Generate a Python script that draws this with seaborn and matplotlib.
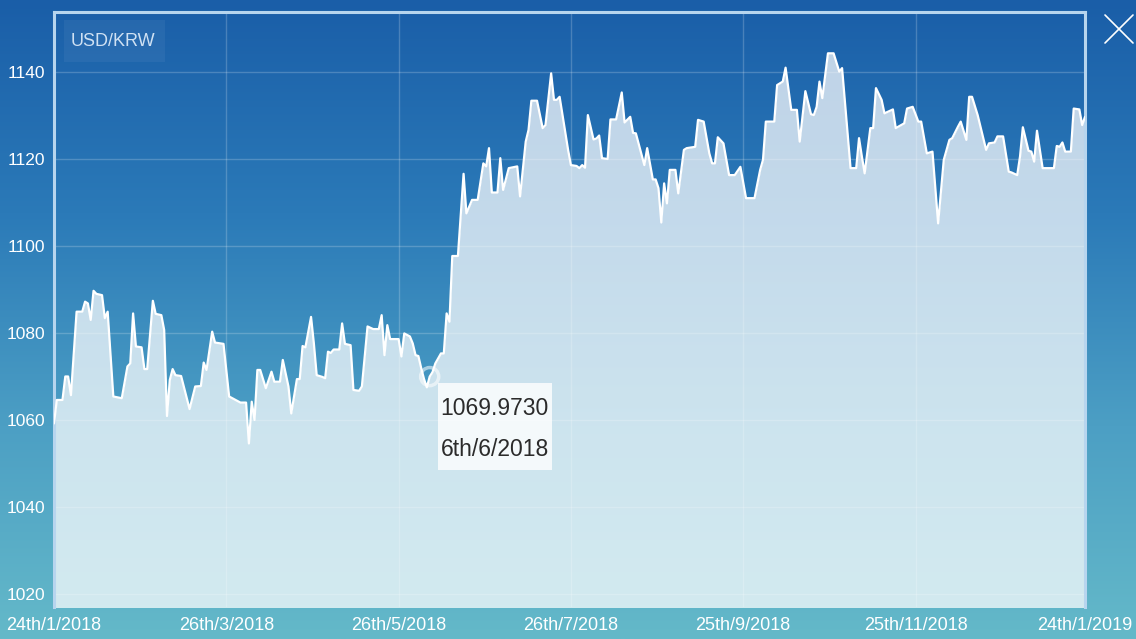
import numpy as np
import pandas as pd
import matplotlib.pyplot as plt
import matplotlib.dates as mdates
from matplotlib.colors import LinearSegmentedColormap
from matplotlib.patches import Rectangle
from matplotlib.lines import Line2D
from matplotlib.transforms import IdentityTransform
import seaborn as sns

# %% Data
start_date = "2018-01-24"
end_date = "2019-01-24"
pair_name = "USD/KRW"

day_offset = [
    0, 1, 3, 4, 5, 6, 8, 10, 11, 12, 13, 14, 15, 17, 18, 19, 21, 24, 26, 27,
    28, 29, 31, 32, 33, 35, 36, 38, 39, 40, 41, 42, 43, 45, 48, 50, 52, 53, 54, 56,
    57, 60, 62, 66, 68, 69, 70, 71, 72, 73, 75, 77, 78, 80, 81, 83, 84, 86, 87, 88,
    89, 91, 92, 93, 95, 96, 97, 98, 99, 101, 102, 103, 105, 106, 108, 109, 111, 113, 115, 116,
    117, 118, 119, 122, 123, 124, 126, 127, 128, 129, 130, 131, 132, 133, 134, 135, 137, 138, 139, 140,
    141, 143, 145, 146, 148, 150, 152, 153, 154, 155, 157, 158, 159, 161, 164, 165, 167, 168, 169, 171,
    173, 174, 176, 177, 178, 179, 182, 183, 185, 186, 187, 188, 189, 191, 192, 193, 194, 196, 197, 199,
    201, 202, 204, 205, 206, 209, 210, 212, 213, 214, 215, 216, 217, 218, 220, 221, 223, 224, 227, 228,
    230, 232, 233, 234, 235, 237, 239, 241, 243, 245, 246, 248, 250, 251, 252, 255, 256, 258, 259, 261,
    263, 264, 266, 268, 269, 270, 271, 272, 274, 276, 278, 279, 282, 284, 285, 286, 287, 289, 290, 291,
    293, 294, 297, 298, 301, 302, 304, 306, 307, 309, 311, 313, 315, 317, 318, 320, 321, 323, 324, 325,
    327, 330, 331, 333, 334, 336, 338, 339, 341, 342, 343, 345, 346, 347, 348, 350, 354, 355, 356, 357,
    358, 360, 361, 363, 364, 365,
]
usd_krw = [
    1059.2, 1064.6, 1064.6, 1070.0, 1070.0, 1065.7, 1084.9, 1084.9, 1087.2, 1086.8,
    1083.0, 1089.7, 1089.0, 1088.7, 1083.4, 1084.9, 1065.4, 1065.0, 1072.3, 1073.0,
    1084.5, 1076.9, 1076.7, 1071.7, 1071.7, 1087.4, 1084.4, 1084.1, 1080.7, 1060.9,
    1069.2, 1071.7, 1070.3, 1070.1, 1062.5, 1067.7, 1067.8, 1073.2, 1071.5, 1080.3,
    1077.8, 1077.5, 1065.4, 1064.0, 1064.0, 1054.6, 1064.2, 1060.0, 1071.5, 1071.5,
    1067.3, 1071.1, 1068.8, 1068.8, 1073.8, 1067.7, 1061.5, 1069.4, 1069.4, 1077.0,
    1076.7, 1083.7, 1077.6, 1070.3, 1069.9, 1069.6, 1075.7, 1075.4, 1076.2, 1076.2,
    1082.2, 1077.5, 1077.2, 1066.9, 1066.7, 1067.7, 1081.5, 1080.9, 1080.9, 1084.1,
    1074.9, 1081.8, 1078.6, 1078.6, 1074.6, 1079.9, 1079.2, 1077.6, 1074.9, 1074.7,
    1071.9, 1069.4, 1067.5, 1069.973, 1071.0, 1073.0, 1075.3, 1075.3, 1084.5, 1082.6,
    1097.7, 1097.7, 1116.6, 1107.5, 1110.6, 1110.6, 1119.0, 1118.3, 1122.5, 1112.3,
    1112.3, 1120.2, 1112.9, 1117.9, 1118.3, 1111.4, 1124.0, 1126.7, 1133.4, 1133.4,
    1127.1, 1127.8, 1139.7, 1133.6, 1133.6, 1134.3, 1122.1, 1118.6, 1118.4, 1117.9,
    1118.6, 1118.0, 1130.1, 1124.5, 1124.7, 1125.4, 1120.2, 1120.0, 1129.1, 1129.1,
    1135.3, 1128.4, 1129.7, 1126.0, 1125.9, 1118.6, 1122.5, 1115.3, 1115.3, 1113.3,
    1105.4, 1114.4, 1109.8, 1117.5, 1117.5, 1112.1, 1122.1, 1122.5, 1122.8, 1129.0,
    1128.6, 1121.3, 1119.0, 1119.0, 1125.0, 1123.6, 1116.3, 1116.3, 1118.2, 1111.0,
    1111.0, 1111.0, 1117.5, 1119.8, 1128.6, 1128.6, 1137.0, 1137.8, 1141.0, 1131.3,
    1131.3, 1124.0, 1135.6, 1130.3, 1130.1, 1132.0, 1137.8, 1134.0, 1144.3, 1144.3,
    1140.1, 1140.9, 1117.9, 1117.9, 1124.8, 1120.6, 1116.7, 1127.1, 1127.1, 1136.3,
    1133.6, 1130.5, 1131.4, 1127.1, 1128.2, 1131.6, 1132.0, 1128.6, 1128.6, 1121.3,
    1121.7, 1105.2, 1119.8, 1124.4, 1124.8, 1127.4, 1128.6, 1124.4, 1134.3, 1134.3,
    1130.1, 1122.1, 1123.6, 1123.8, 1125.2, 1125.2, 1117.1, 1116.9, 1116.3, 1120.6,
    1127.3, 1121.9, 1121.7, 1119.4, 1126.5, 1117.9, 1117.9, 1123.0, 1122.8, 1123.8,
    1121.7, 1121.7, 1131.6, 1131.4, 1127.8, 1129.7,
]

tick_dates = ["2018-01-24", "2018-03-26", "2018-05-26", "2018-07-26",
              "2018-09-25", "2018-11-25", "2019-01-24"]
tick_labels = ["24th/1/2018", "26th/3/2018", "26th/5/2018", "26th/7/2018",
               "25th/9/2018", "25th/11/2018", "24th/1/2019"]
y_ticks = [1020, 1040, 1060, 1080, 1100, 1120, 1140]

tip_date = "2018-06-06"
tip_value = 1069.9730
tip_label = "6th/6/2018"

dates = pd.Timestamp(start_date) + pd.to_timedelta(day_offset, unit="D")
df = pd.DataFrame({"date": dates, "rate": usd_krw})

# %% Style
sns.set_style("white")
plt.rcParams["font.family"] = ["Liberation Sans", "DejaVu Sans"]

W, H = 1136, 639
fig = plt.figure(figsize=(W / 100, H / 100), dpi=100)

# gradient background over the whole figure
bg = fig.add_axes([0, 0, 1, 1], zorder=0)
bg_cmap = LinearSegmentedColormap.from_list("bg", ["#1a5ea8", "#2b7ab8", "#4c9fc4", "#64b9c9"])
grad = np.linspace(0, 1, 256).reshape(-1, 1)
bg.imshow(grad, aspect="auto", cmap=bg_cmap, extent=[0, 1, 0, 1], origin="upper")
bg.set_axis_off()

# %% Chart
ax = fig.add_axes([54 / W, 32 / H, 1031 / W, 595 / H], zorder=1)
ax.set_facecolor("none")

ax.fill_between(df["date"], df["rate"], 1000, color="white", alpha=0.72, lw=0, zorder=1)
sns.lineplot(data=df, x="date", y="rate", ax=ax, color="white", lw=1.6, zorder=4)

ax.set_xlim(pd.Timestamp(start_date), pd.Timestamp(end_date))
ax.set_ylim(1017, 1153.8)
ax.set_yticks(y_ticks)
ax.set_xticks(pd.to_datetime(tick_dates))
ax.set_xticklabels(tick_labels)
ax.set_xlabel("")
ax.set_ylabel("")

ax.set_axisbelow("line")
ax.grid(True, color="white", alpha=0.2, lw=1)
ax.tick_params(length=0, colors="white", labelsize=13)
ax.tick_params(axis="x", pad=7)
ax.tick_params(axis="y", pad=6.5, labelsize=12.5)

for side in ["top", "left", "right"]:
    ax.spines[side].set_visible(True)
    ax.spines[side].set_color("#b7d5ee")
    ax.spines[side].set_linewidth(2.2)
ax.spines["bottom"].set_visible(False)

# pair label box
fig.add_artist(Rectangle((64 / W, 1 - 62 / H), 101 / W, 42 / H, transform=fig.transFigure,
                         facecolor="white", alpha=0.05, lw=0))
fig.text(113 / W, 1 - 41 / H, pair_name, color="#cfe1f3", fontsize=13, ha="center", va="center")

# close icon
fig.add_artist(Line2D([1105 / W, 1133 / W], [1 - 15 / H, 1 - 43 / H], color="white", lw=1.2))
fig.add_artist(Line2D([1105 / W, 1133 / W], [1 - 43 / H, 1 - 15 / H], color="white", lw=1.2))

# tooltip
tip_x = mdates.date2num(pd.Timestamp(tip_date))
ax.scatter([tip_x], [tip_value], s=170, facecolor="none", edgecolor="white",
           linewidth=2.5, alpha=0.55, zorder=5)
px, py = ax.transData.transform((tip_x, tip_value))
ax.add_patch(Rectangle((px + 8, py - 93), 114, 87, transform=IdentityTransform(),
                       facecolor="white", alpha=0.8, lw=0, zorder=6, clip_on=False))
ax.annotate(f"{tip_value:.4f}", (tip_x, tip_value), xytext=(11, -32), textcoords="offset pixels",
            fontsize=16.5, color="#2b2b2b", va="center", ha="left", zorder=7)
ax.annotate(tip_label, (tip_x, tip_value), xytext=(11, -73), textcoords="offset pixels",
            fontsize=16.5, color="#2b2b2b", va="center", ha="left", zorder=7)

plt.savefig("out.png", dpi=100)
